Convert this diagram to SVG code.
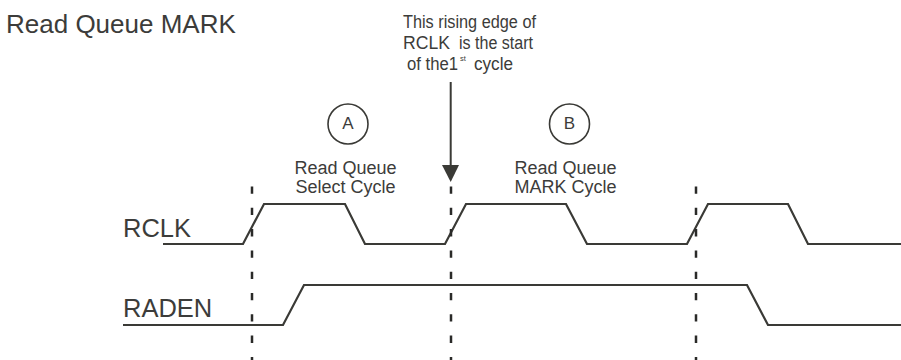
<svg xmlns="http://www.w3.org/2000/svg" width="901" height="360" viewBox="0 0 901 360">
<style>
text{font-family:"Liberation Sans",Arial,sans-serif;fill:#3c3c3a}
.wave{fill:none;stroke:#3a3a36;stroke-width:2.2;stroke-linejoin:miter}
.dash{fill:none;stroke:#2a2a28;stroke-width:2.5;stroke-dasharray:7.3 14}
.circ{fill:none;stroke:#3a3a36;stroke-width:1.6}
</style>
<rect width="901" height="360" fill="#fff"/>
<text x="6" y="33" font-size="26">Read Queue MARK</text>
<g id="note">
<text x="403" y="28" font-size="18" textLength="133" lengthAdjust="spacingAndGlyphs">This rising edge of</text>
<text x="403" y="49" font-size="18" textLength="47" lengthAdjust="spacingAndGlyphs">RCLK</text>
<text x="459" y="49" font-size="18" textLength="74" lengthAdjust="spacingAndGlyphs">is the start</text>
<text y="70" font-size="18"><tspan x="407" textLength="51" lengthAdjust="spacingAndGlyphs">of the1</tspan><tspan x="460" y="60.5" font-size="7.5">st</tspan><tspan x="474" y="70" textLength="39" lengthAdjust="spacingAndGlyphs">cycle</tspan></text>
</g>
<g id="cycleA">
<circle class="circ" cx="348" cy="124" r="20"/>
<text x="348" y="129" font-size="17" text-anchor="middle">A</text>
<text x="345.5" y="174" font-size="18" text-anchor="middle">Read Queue</text>
<text x="345.5" y="193" font-size="18" text-anchor="middle">Select Cycle</text>
</g>
<g id="cycleB">
<circle class="circ" cx="569.5" cy="124" r="20"/>
<text x="569.5" y="129" font-size="17" text-anchor="middle">B</text>
<text x="565.5" y="174" font-size="18" text-anchor="middle">Read Queue</text>
<text x="565.5" y="193" font-size="18" text-anchor="middle">MARK Cycle</text>
</g>
<g id="rclk">
<text x="123" y="237" font-size="25.5">RCLK</text>
<path class="wave" d="M163,244 L243,244 L264,204 L345,204 L365,244 L445,244 L466,204 L566,204 L587,244 L687,244 L708,204 L788,204 L808,244 L901,244"/>
</g>
<g id="raden">
<text x="123" y="317" font-size="25.5">RADEN</text>
<path class="wave" d="M123,325 L283,325 L304,285 L747,285 L768,325 L901,325"/>
</g>
<g id="connectors">
<line class="dash" x1="252" y1="186.5" x2="252" y2="360"/>
<line class="dash" x1="451" y1="186.5" x2="451" y2="360"/>
<line class="dash" x1="696" y1="186.5" x2="696" y2="360"/>
<line x1="450.7" y1="82" x2="450.7" y2="167" stroke="#3a3a36" stroke-width="2"/>
<polygon points="442,165 459,165 450.7,182" fill="#3a3a36"/>
</g>
</svg>
